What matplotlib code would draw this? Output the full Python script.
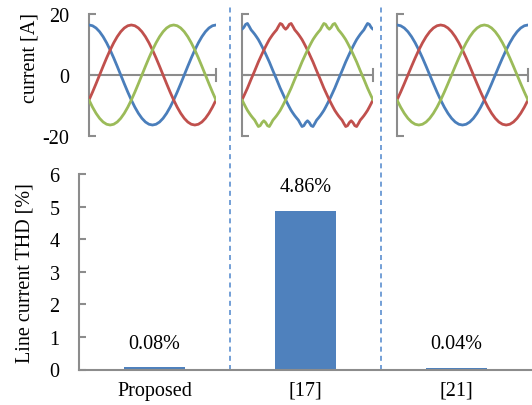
import matplotlib
matplotlib.use("Agg")
import matplotlib.pyplot as plt
import numpy as np

plt.rcParams['font.family'] = ['Liberation Serif', 'DejaVu Serif']
plt.rcParams['axes.unicode_minus'] = False

# THD bar data
methods = ["Proposed", "[17]", "[21]"]
thd = [0.08, 4.86, 0.04]
thd_labels = ["0.08%", "4.86%", "0.04%"]

# phase-a current over one period [A]
# clean sinusoid, 10 deg steps
angle_clean = [0, 10, 20, 30, 40, 50, 60, 70, 80, 90, 100, 110, 120, 130, 140, 150, 160, 170,
               180, 190, 200, 210, 220, 230, 240, 250, 260, 270, 280, 290, 300, 310, 320, 330, 340, 350]
ia_clean = [16.4, 16.15, 15.41, 14.2, 12.56, 10.54, 8.2, 5.61, 2.85, 0.0, -2.85, -5.61,
            -8.2, -10.54, -12.56, -14.2, -15.41, -16.15, -16.4, -16.15, -15.41, -14.2, -12.56, -10.54,
            -8.2, -5.61, -2.85, 0.0, 2.85, 5.61, 8.2, 10.54, 12.56, 14.2, 15.41, 16.15]
# distorted current of [17], 5 deg steps (notched tops)
angle_dist = list(range(0, 360, 5))
ia_dist = [15.0, 15.6, 16.6, 16.9, 15.9, 14.8, 14.1, 13.35, 12.5, 11.6, 10.5, 9.35,
           8.15, 6.9, 5.6, 4.3, 2.85, 1.4, 0.0, -1.4, -2.85, -4.3, -5.6, -6.9,
           -8.15, -9.35, -10.5, -11.6, -12.5, -13.35, -14.1, -14.8, -15.9, -16.9, -16.6, -15.6,
           -15.0, -15.6, -16.6, -16.9, -15.9, -14.8, -14.1, -13.35, -12.5, -11.6, -10.5, -9.35,
           -8.15, -6.9, -5.6, -4.3, -2.85, -1.4, 0.0, 1.4, 2.85, 4.3, 5.6, 6.9,
           8.15, 9.35, 10.5, 11.6, 12.5, 13.35, 14.1, 14.8, 15.9, 16.9, 16.6, 15.6]

blue = '#4a7ebb'
red = '#c0504d'
green = '#9bbb59'
gray = '#8c8c8c'
sep = '#5b8fd0'


def three_phase(angles, ia):
    n = len(ia)
    a = np.array(ia)
    x = np.append(angles, 360)
    phases = []
    for k in (0, 1, 2):
        s = np.roll(a, k * n // 3)
        phases.append(np.append(s, s[0]))
    return x, phases


fig = plt.figure(figsize=(5.32, 4.06), dpi=100)

# top waveform panels
panels = [(89, 127, angle_clean, ia_clean),
          (242, 131, angle_dist, ia_dist),
          (397, 131, angle_clean, ia_clean)]
for i, (left_px, w_px, ang, ia) in enumerate(panels):
    ax = fig.add_axes([left_px / 532, (406 - 137) / 406, w_px / 532, 122 / 406])
    x, ph = three_phase(ang, ia)
    for y, c in zip(ph, [blue, red, green]):
        ax.plot(x, y, color=c, lw=2.0, solid_capstyle='round', zorder=3)
    ax.set_xlim(0, 360)
    ax.set_ylim(-20, 20)
    for s in ['top', 'right', 'bottom']:
        ax.spines[s].set_visible(False)
    ax.spines['left'].set_color(gray)
    ax.spines['left'].set_linewidth(1.5)
    ax.axhline(0, color=gray, lw=1.5, zorder=1)
    ax.plot([360, 360], [-2, 2], color=gray, lw=1.5, clip_on=False, zorder=1)
    ax.set_yticks([-20, 0, 20])
    ax.tick_params(axis='y', direction='in', length=5, width=1.5, color=gray,
                   labelsize=14.5, pad=14)
    ax.set_xticks([])
    if i > 0:
        ax.set_yticklabels([])

fig.text(30 / 532, (406 - 58) / 406, "current [A]", rotation=90, fontsize=14.5,
         ha='center', va='center')

# bottom THD bar chart
axb = fig.add_axes([79 / 532, (406 - 370.5) / 406, 453 / 532, 195.5 / 406])
xpos = np.arange(len(methods))
axb.bar(xpos, thd, width=0.4, color='#4f81bd', zorder=2)
for xp, v, lab in zip(xpos, thd, thd_labels):
    axb.text(xp, v + 0.45 if v > 1 else 0.52, lab, ha='center', va='bottom', fontsize=14.5)
axb.set_xlim(-0.5, 2.5)
axb.set_ylim(0, 6)
axb.set_yticks(range(0, 7))
axb.set_xticks(xpos)
axb.set_xticklabels(methods, fontsize=14.5)
axb.tick_params(axis='x', length=0, pad=8)
axb.tick_params(axis='y', direction='in', length=5, width=1.5, color=gray, labelsize=14.5, pad=14)
for s in ['top', 'right']:
    axb.spines[s].set_visible(False)
for s in ['left', 'bottom']:
    axb.spines[s].set_color(gray)
    axb.spines[s].set_linewidth(1.5)
axb.set_ylabel("Line current THD [%]", fontsize=14.5, labelpad=11)

# dashed separators spanning both rows
for xs in (0.5, 1.5):
    axb.axvline(xs, ymin=0, ymax=(370.5 - 8) / 195.5, color=sep, lw=1.2,
                ls=(0, (3, 2.5)), clip_on=False, zorder=1)

fig.savefig("out.png", dpi=100)
